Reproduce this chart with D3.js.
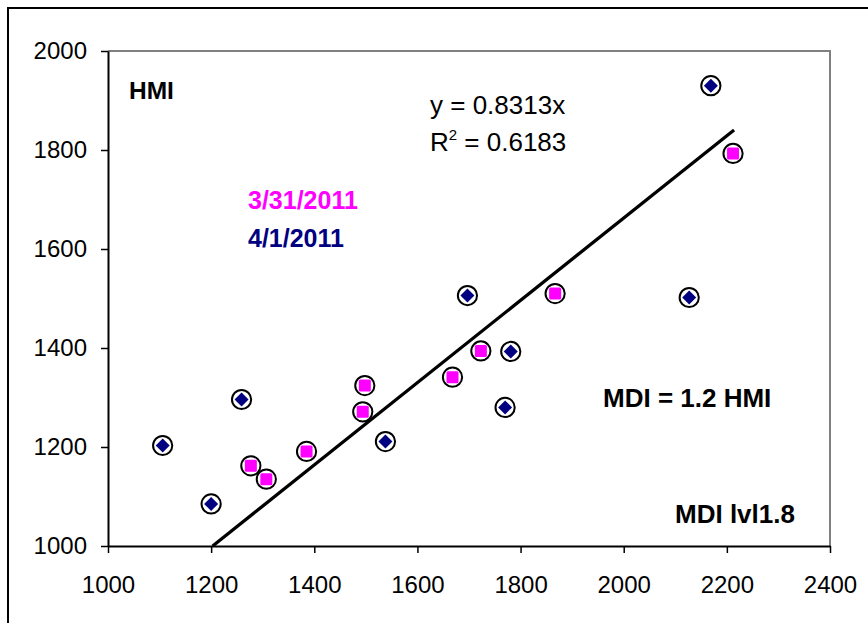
<!DOCTYPE html>
<html>
<head>
<meta charset="utf-8">
<script src="https://cdn.jsdelivr.net/npm/d3@7"></script>
<style>
  body { margin: 0; background: #fff; }
  text { font-family: "Liberation Sans", Arial, sans-serif; }
</style>
</head>
<body>
<script>
// --- data ---
var xTicks = [1000, 1200, 1400, 1600, 1800, 2000, 2200, 2400];
var yTicks = [1000, 1200, 1400, 1600, 1800, 2000];

// 3/31/2011 (magenta squares)
var marX = [1277, 1307, 1385, 1494, 1498, 1668, 1723, 1867, 2212];
var marY = [1162, 1135, 1191, 1271, 1324, 1341, 1394, 1510, 1793];

// 4/1/2011 (navy diamonds)
var aprX = [1106, 1200, 1259, 1538, 1697, 1781, 1770, 2127, 2169];
var aprY = [1203, 1085, 1296, 1211, 1506, 1393, 1280, 1502, 1930];

var slope = 0.8313;
var trendX = [1000 / 0.8313, 2214];

// --- layout ---
var W = 868, H = 623;
var plot = { left: 108, top: 51, right: 830, bottom: 546 };

var magenta = "#ff00ff",
    navy = "#000080",
    font = '"Liberation Sans", Arial, sans-serif';

var svg = d3.select("body").append("svg")
    .attr("width", W)
    .attr("height", H);

// outer chart border (runs off the right / bottom edge)
svg.append("rect")
    .attr("x", 8).attr("y", 8)
    .attr("width", 900).attr("height", 700)
    .attr("fill", "none")
    .attr("stroke", "black")
    .attr("stroke-width", 2);

var x = d3.scaleLinear().domain([1000, 2400]).range([plot.left, plot.right]);
var y = d3.scaleLinear().domain([1000, 2000]).range([plot.bottom, plot.top]);

// plot area frame: grey top/right
svg.append("path")
    .attr("d", "M" + plot.left + "," + plot.top + "H" + plot.right + "V" + plot.bottom)
    .attr("fill", "none")
    .attr("stroke", "#808080")
    .attr("stroke-width", 2);

// --- axes ---
var xAxis = svg.append("g")
    .attr("transform", "translate(0," + plot.bottom + ")")
    .call(d3.axisBottom(x).tickValues(xTicks).tickSize(7).tickSizeOuter(0).tickPadding(23).tickFormat(d3.format("d")));

var yAxis = svg.append("g")
    .attr("transform", "translate(" + plot.left + ",0)")
    .call(d3.axisLeft(y).tickValues(yTicks).tickSize(7).tickSizeOuter(0).tickPadding(14).tickFormat(d3.format("d")));

[xAxis, yAxis].forEach(function(a) {
    a.select(".domain").attr("stroke", "black").attr("stroke-width", 2);
    a.selectAll(".tick line").attr("stroke", "black").attr("stroke-width", 1.5);
    a.selectAll(".tick text")
        .attr("font-family", font)
        .attr("font-size", "24px")
        .attr("fill", "black");
});

// --- trend line ---
svg.append("line")
    .attr("x1", x(trendX[0])).attr("y1", y(slope * trendX[0]))
    .attr("x2", x(trendX[1])).attr("y2", y(slope * trendX[1]))
    .attr("stroke", "black")
    .attr("stroke-width", 3.3);

// --- markers ---
var r = 9.6;

function ring(g) {
    g.append("circle")
        .attr("r", r)
        .attr("fill", "white")
        .attr("stroke", "black")
        .attr("stroke-width", 2);
}

var mar = svg.append("g").selectAll("g")
    .data(d3.range(marX.length))
    .join("g")
    .attr("transform", function(i) { return "translate(" + x(marX[i]) + "," + y(marY[i]) + ")"; });
mar.call(ring);
mar.append("rect")
    .attr("x", -6).attr("y", -6)
    .attr("width", 12).attr("height", 12)
    .attr("rx", 1.5)
    .attr("fill", magenta);

var apr = svg.append("g").selectAll("g")
    .data(d3.range(aprX.length))
    .join("g")
    .attr("transform", function(i) { return "translate(" + x(aprX[i]) + "," + y(aprY[i]) + ")"; });
apr.call(ring);
apr.append("path")
    .attr("d", "M0,-7L7,0L0,7L-7,0Z")
    .attr("fill", navy);

// --- labels ---
function label(txt, lx, ly, opts) {
    opts = opts || {};
    return svg.append("text")
        .text(txt)
        .attr("x", lx)
        .attr("y", ly)
        .attr("font-family", font)
        .attr("font-size", opts.size || "25.5px")
        .attr("font-weight", opts.bold ? "bold" : "normal")
        .attr("fill", opts.color || "black");
}

label("HMI", 129, 99, { bold: true, size: "24.5px" });
label("3/31/2011", 248, 209, { bold: true, color: magenta, size: "25px" });
label("4/1/2011", 248, 247, { bold: true, color: navy, size: "25px" });
label("MDI = 1.2 HMI", 603, 407, { bold: true, size: "26px" });
label("MDI lvl1.8", 675, 523, { bold: true, size: "26px" });

label("y = 0.8313x", 430, 114, { size: "26px" });
var r2 = label("R", 430, 151, { size: "26px" });
r2.append("tspan").text("2").attr("font-size", "15px").attr("dy", -11);
r2.append("tspan").text(" = 0.6183").attr("dy", 11);
</script>
</body>
</html>
